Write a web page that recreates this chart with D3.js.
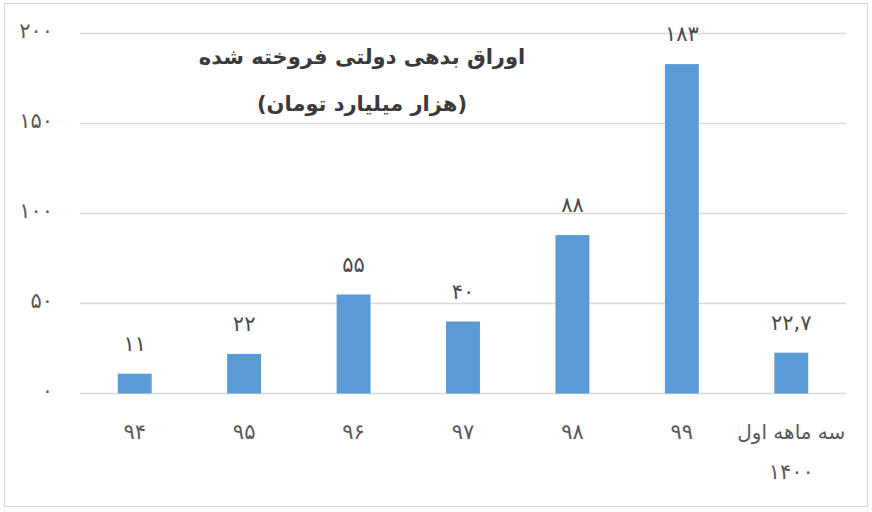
<!DOCTYPE html>
<html><head><meta charset="utf-8">
<script src="https://cdn.jsdelivr.net/npm/d3@7/dist/d3.min.js"></script>
<style>
html,body{margin:0;padding:0;background:#fff;}
svg{display:block;}
</style></head>
<body>
<svg id="chart" width="872" height="512"></svg>
<script>
const categories = ["۹۴", "۹۵", "۹۶", "۹۷", "۹۸", "۹۹", "سه ماهه اول\n۱۴۰۰"];
const values = [11, 22, 55, 40, 88, 183, 22.7];
const yTicks = [0, 50, 100, 150, 200];
const titleLines = ["اوراق بدهی دولتی فروخته شده", "(هزار میلیارد تومان)"];

const fa = s => String(s).replace(/\d/g, d => "۰۱۲۳۴۵۶۷۸۹"[d]).replace(".", ",");

const svg = d3.select("#chart");
const font = "'DejaVu Sans', sans-serif";
const txt = "#595959";

svg.append("rect").attr("x", 4.5).attr("y", 3.5).attr("width", 863).attr("height", 503)
  .attr("fill", "#fff").attr("stroke", "#d9d9d9").attr("stroke-width", 1);

const x = d3.scaleBand().domain(categories).range([80, 846]).paddingInner(0.69).paddingOuter(0.345);
const y = d3.scaleLinear().domain([0, 200]).range([393.5, 33.5]);

// gridlines
svg.append("g").selectAll("line").data(yTicks).join("line")
  .attr("x1", 80).attr("x2", 846)
  .attr("y1", d => y(d)).attr("y2", d => y(d))
  .attr("stroke", "#d9d9d9").attr("stroke-width", 1.3);

// y axis labels
const yAxis = d3.axisLeft(y).tickValues(yTicks).tickFormat(fa).tickSize(0).tickPadding(0);
const ya = svg.append("g").attr("transform", "translate(53,0)").call(yAxis);
ya.select(".domain").remove();
ya.selectAll("text").attr("font-family", font).attr("font-size", 21).attr("letter-spacing", 2)
  .attr("fill", txt).attr("dy", "0.2em");

// bars
svg.append("g").selectAll("rect").data(values).join("rect")
  .attr("x", (d, i) => x(categories[i]))
  .attr("width", x.bandwidth())
  .attr("y", d => y(d))
  .attr("height", d => y(0) - y(d))
  .attr("fill", "#5b9bd5");

// value labels
svg.append("g").selectAll("text").data(values).join("text")
  .attr("x", (d, i) => x(categories[i]) + x.bandwidth() / 2)
  .attr("y", d => y(d) - 23)
  .attr("text-anchor", "middle")
  .attr("font-family", font).attr("font-size", 21).attr("letter-spacing", 1.5).attr("fill", "#4a4a4a")
  .text(d => fa(d));

// category labels
const xa = svg.append("g").attr("transform", `translate(0,${y(0)})`)
  .call(d3.axisBottom(x).tickSize(0).tickPadding(0).tickFormat(""));
xa.select(".domain").remove();
xa.selectAll(".tick").each(function(d) {
  const lines = d.split("\n");
  const t = d3.select(this).append("text")
    .attr("text-anchor", "middle")
    .attr("font-family", font).attr("fill", txt)
    .attr("direction", "rtl");
  lines.forEach((l, k) => {
    t.append("tspan").attr("x", 0).attr("y", 45 + k * 40)
      .attr("font-size", l.length < 5 ? 21 : 20)
      .attr("letter-spacing", l.length < 5 ? 1.5 : 0)
      .text(l);
  });
});

// title
svg.append("g").selectAll("text").data(titleLines).join("text")
  .attr("x", 362).attr("y", (d, i) => 64 + i * 47)
  .attr("text-anchor", "middle").attr("direction", "rtl")
  .attr("font-family", font).attr("font-weight", "bold").attr("font-size", 21)
  .attr("fill", "#3a3a3a")
  .text(d => d);
</script>
</body></html>
